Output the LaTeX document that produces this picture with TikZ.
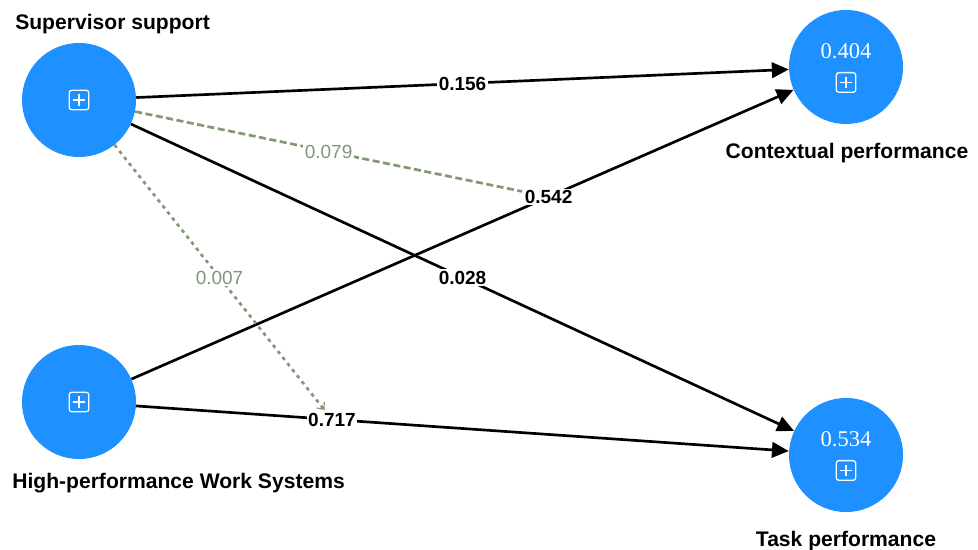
\documentclass[tikz,border=0pt]{standalone}
\usepackage{fontspec}
\setmainfont{Liberation Sans}
\newfontfamily\valfont{Liberation Serif}
\usetikzlibrary{arrows.meta, positioning}
\definecolor{myblue}{RGB}{30, 144, 255}
\definecolor{mygray}{RGB}{128, 152, 120}

\begin{document}
\begin{tikzpicture}[
    x=0.025cm, y=-0.025cm,
    latent/.style={circle, fill=myblue, minimum size=2.85cm, inner sep=0pt},
    plusbox/.style={rectangle, rounded corners=2pt, draw=white, line width=0.9pt, minimum size=14pt, inner sep=0pt,
        path picture={\draw[white, line width=0.9pt] ([xshift=-4pt]path picture bounding box.center) -- ([xshift=4pt]path picture bounding box.center)
            ([yshift=-4pt]path picture bounding box.center) -- ([yshift=4pt]path picture bounding box.center);}},
    rsq/.style={text=white, inner sep=0pt, font=\valfont\fontsize{16}{19}\selectfont},
    varlabel/.style={inner sep=0pt, font=\bfseries\fontsize{15}{18}\selectfont},
    coef/.style={fill=white, inner sep=1pt, font=\bfseries\fontsize{13.5}{16}\selectfont},
    mcoef/.style={fill=white, inner sep=1pt, text=mygray, font=\fontsize{13.5}{16}\selectfont},
    arrow/.style={line width=1.9pt, -{Triangle[length=12pt, width=11pt]}},
    modline/.style={mygray, line width=1.9pt, dash pattern=on 5pt off 2.5pt}
]
\useasboundingbox (0,0) rectangle (978,550);

% Latent variables
\node[latent] (ss) at (79,100) {};
\node[latent] (hpws) at (79,402) {};
\node[latent] (cp) at (846,67) {};
\node[latent] (tp) at (846,455) {};

% Icons and R-square values
\node[plusbox] (ssicon) at (ss) {};
\node[plusbox] (hpwsicon) at (hpws) {};
\node[rsq] (cpval) at ([yshift=11pt]cp.center) {0.404};
\node[plusbox] (cpicon) at ([yshift=-11pt]cp.center) {};
\node[rsq] (tpval) at ([yshift=11pt]tp.center) {0.534};
\node[plusbox] (tpicon) at ([yshift=-11pt]tp.center) {};

% Variable names
\node[varlabel, anchor=west] (sslabel) at (15,24) {Supervisor support};
\node[varlabel] (cplabel) at (847,153) {Contextual performance};
\node[varlabel, anchor=west] (hpwslabel) at (12,483) {High-performance Work Systems};
\node[varlabel] (tplabel) at (846,541) {Task performance};

% Paths
\draw[arrow] (ss) -- node[coef] {0.156} (cp);
\draw[arrow] (ss) -- node[coef] {0.028} (tp);
\draw[arrow] (hpws) -- node[coef, pos=0.63] (c542) {0.542} (cp);
\draw[arrow] (hpws) -- node[coef, pos=0.3] (c717) {0.717} (tp);

% Moderating effects
\draw[modline] (ss) -- node[mcoef] {0.079} (c542);
\draw[modline, dash pattern=on 2.5pt off 3pt, -{Straight Barb[length=4pt, width=7pt, line width=0.8pt]}] (ss) -- node[mcoef] {0.007} (c717);

\end{tikzpicture}
\end{document}
